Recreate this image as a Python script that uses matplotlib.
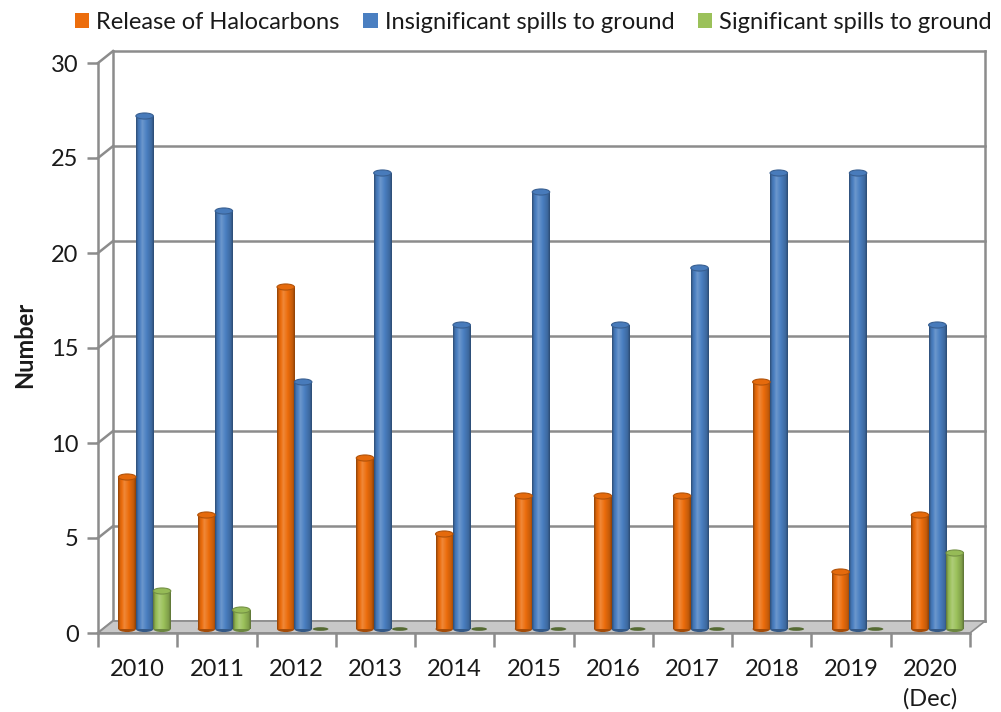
import numpy as np
import matplotlib
matplotlib.use('Agg')
import matplotlib.pyplot as plt
from matplotlib.patches import Patch, Ellipse, Polygon
from matplotlib.colors import to_rgb

plt.rcParams['font.family'] = ['Lato', 'DejaVu Sans']

years = ['2010', '2011', '2012', '2013', '2014', '2015', '2016', '2017', '2018', '2019', '2020\n(Dec)']
halocarbons = [8, 6, 18, 9, 5, 7, 7, 7, 13, 3, 6]
insignificant = [27, 22, 13, 24, 16, 23, 16, 19, 24, 24, 16]
significant = [2, 1, 0, 0, 0, 0, 0, 0, 0, 0, 4]

names = ['Release of Halocarbons', 'Insignificant spills to ground', 'Significant spills to ground']
colors = ['#ec6d0c', '#4a7fc1', '#9bc15a']
series = [halocarbons, insignificant, significant]

gray = '#8c8c8c'
txt = '#1a1a1a'

fig = plt.figure(figsize=(10.01, 7.12), dpi=100)
ax = fig.add_axes([98/1001, 79/712, 872/1001, 570/712])

# depth offsets (data units) for the 3D look
dx_back, dy_back = 0.19, 0.63
dx_mid, dy_mid = 0.088, 0.21
w = 0.22
cap_h = 0.32

# back wall + gridlines
yt = list(range(0, 31, 5))
for v in yt:
    ax.plot([-0.5 + dx_back, 10.5 + dx_back], [v + dy_back, v + dy_back], color=gray, lw=1.8, zorder=1, clip_on=False)
    ax.plot([-0.5, -0.5 + dx_back], [v, v + dy_back], color=gray, lw=1.8, zorder=1, clip_on=False)
for xe in [-0.5 + dx_back, 10.5 + dx_back]:
    ax.plot([xe, xe], [dy_back, 30 + dy_back], color=gray, lw=1.8, zorder=1, clip_on=False)

# floor
floor = Polygon([(-0.5, 0), (10.5, 0), (10.5 + dx_back, dy_back), (-0.5 + dx_back, dy_back)],
                closed=True, facecolor='#c8c8c8', edgecolor=gray, lw=1.2, zorder=2, clip_on=False)
ax.add_patch(floor)

# cylinder shading profile
prof_x = np.array([0.0, 0.12, 0.35, 0.6, 0.88, 1.0])
prof_v = np.array([0.62, 0.92, 1.12, 1.0, 0.82, 0.6])
xs = np.linspace(0, 1, 40)
shade = np.interp(xs, prof_x, prof_v)

def shaded(c, f):
    c = np.array(to_rgb(c))
    if f >= 1:
        return c + (1 - c) * (f - 1) * 1.6
    return c * f

for k, (vals, col) in enumerate(zip(series, colors)):
    img = np.array([[np.clip(shaded(col, f), 0, 1) for f in shade]])
    for i, v in enumerate(vals):
        xc = i + dx_mid + (k - 1) * w
        x0, x1 = xc - w / 2, xc + w / 2
        y0 = dy_mid
        if v == 0:
            ax.add_patch(Ellipse((xc, y0), w * 0.9, cap_h * 0.6, facecolor=shaded(col, 0.55),
                                 edgecolor='none', zorder=4))
            continue
        ax.add_patch(Ellipse((xc, y0), w, cap_h, facecolor=shaded(col, 0.7), edgecolor='none', zorder=4))
        ax.imshow(img, extent=(x0, x1, y0, y0 + v), aspect='auto', interpolation='bilinear', zorder=5)
        ax.add_patch(Ellipse((xc, y0 + v), w, cap_h, facecolor=shaded(col, 0.97),
                             edgecolor=shaded(col, 0.75), lw=0.8, zorder=6))

ax.set_xlim(-0.5, 10.5)
ax.set_ylim(0, 30)

for s in ['top', 'right']:
    ax.spines[s].set_visible(False)
for s in ['left', 'bottom']:
    ax.spines[s].set_color(gray)
    ax.spines[s].set_linewidth(1.8)
    ax.spines[s].set_zorder(3)

ax.set_yticks(yt)
ax.tick_params(axis='y', length=8, width=1.8, color=gray, labelsize=17, labelcolor=txt, pad=6)
ax.set_xticks(np.arange(-0.5, 11, 1))
ax.set_xticklabels([])
ax.set_xticks(range(11), minor=True)
ax.set_xticklabels(years, minor=True, linespacing=1.45)
ax.tick_params(axis='x', which='major', length=10, width=1.8, color=gray)
ax.tick_params(axis='x', which='minor', length=0, labelsize=17, labelcolor=txt, pad=19)

fig.text(25/1001, 1 - 345/712, 'Number', rotation=90, va='center', ha='center',
         fontweight='bold', fontsize=17, color=txt)

handles = [Patch(facecolor=c, edgecolor='none') for c in colors]
fig.legend(handles, names, loc='upper center', bbox_to_anchor=(0.533, 1.0), ncol=3, frameon=False,
           fontsize=17, handlelength=0.6, handleheight=0.6, handletextpad=0.3, columnspacing=1.0,
           borderaxespad=0.1, labelcolor=txt)

fig.savefig('out.png', dpi=100)
